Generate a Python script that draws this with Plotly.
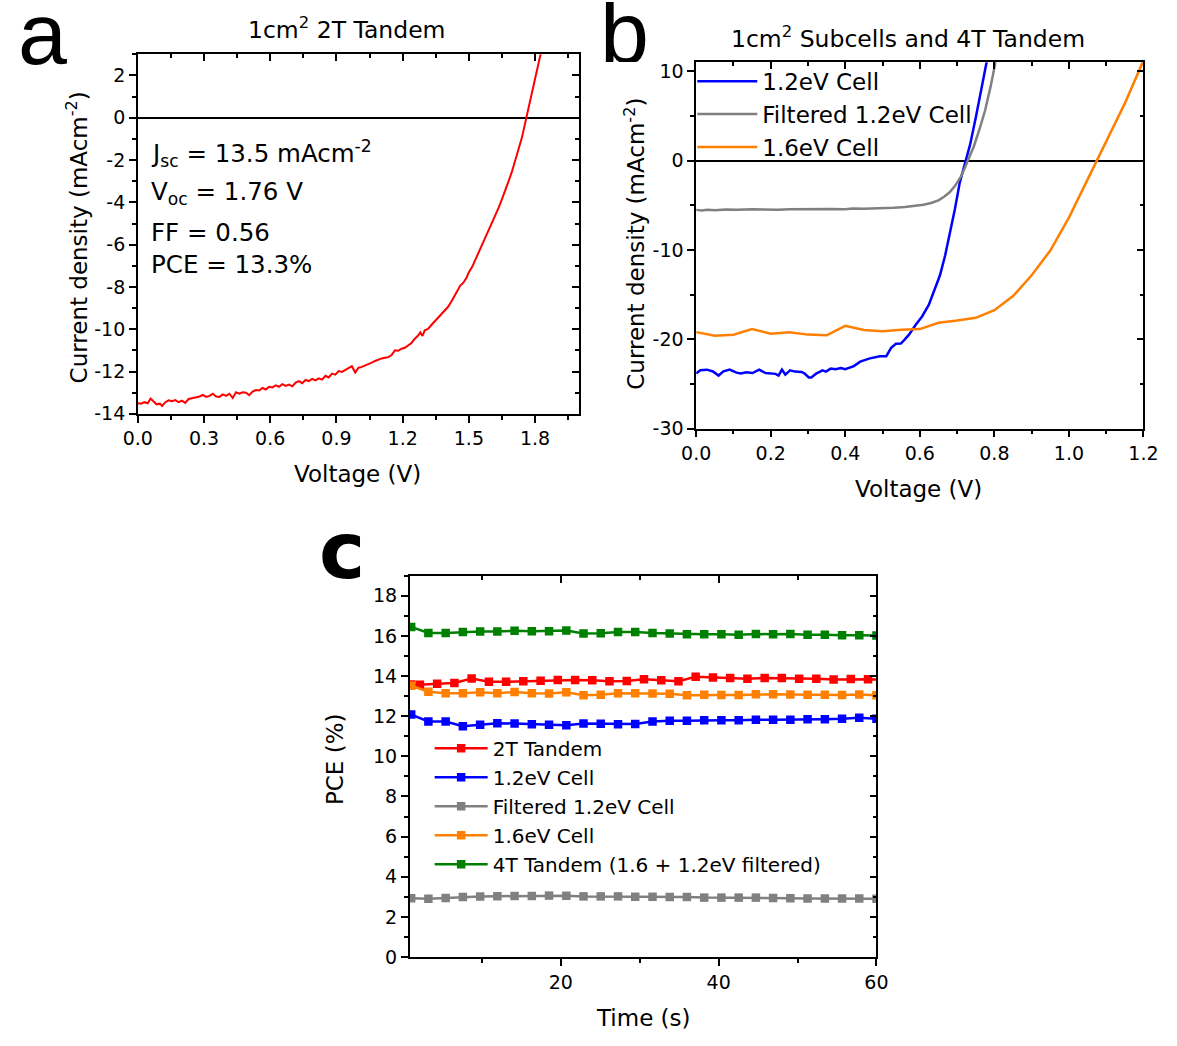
import plotly.graph_objects as go

W, H = 1177, 1046
FONT = "DejaVu Sans, Liberation Sans, Arial, sans-serif"
LETTER_FONT = "Liberation Sans, Arial, sans-serif"

# ---------------- Panel a : 2T tandem J-V ----------------
a_voltage = [0.000, 0.015, 0.030, 0.045, 0.058, 0.070, 0.085, 0.100, 0.110, 0.125, 0.140, 0.155,
             0.170, 0.185, 0.200, 0.215, 0.230, 0.250, 0.265, 0.280, 0.295, 0.310, 0.325, 0.340,
             0.355, 0.370, 0.385, 0.400, 0.415, 0.430, 0.445, 0.460, 0.475, 0.490, 0.505, 0.520,
             0.535, 0.550, 0.565, 0.580, 0.595, 0.610, 0.625, 0.640, 0.655, 0.670, 0.685, 0.700,
             0.715, 0.730, 0.745, 0.760, 0.775, 0.790, 0.805, 0.820, 0.835, 0.850, 0.865, 0.880,
             0.895, 0.910, 0.925, 0.940, 0.955, 0.970, 0.985, 1.000, 1.015, 1.030, 1.045, 1.060,
             1.075, 1.090, 1.105, 1.120, 1.135, 1.150, 1.165, 1.180, 1.195, 1.210, 1.225, 1.240,
             1.255, 1.270, 1.280, 1.290, 1.300, 1.315, 1.330, 1.345, 1.360, 1.375, 1.390, 1.405,
             1.420, 1.435, 1.450, 1.460, 1.475, 1.490, 1.500, 1.515, 1.530, 1.545, 1.560, 1.575,
             1.590, 1.605, 1.620, 1.635, 1.650, 1.665, 1.680, 1.695, 1.710, 1.725, 1.740, 1.755,
             1.770, 1.785, 1.800, 1.815, 1.830]
a_current = [-13.50, -13.52, -13.45, -13.50, -13.28, -13.40, -13.55, -13.52, -13.63, -13.45, -13.36, -13.40,
             -13.35, -13.45, -13.38, -13.48, -13.30, -13.25, -13.22, -13.18, -13.10, -13.20, -13.15, -13.05,
             -13.18, -13.20, -13.08, -13.15, -13.05, -13.25, -12.98, -13.05, -12.98, -13.00, -13.12, -12.95,
             -12.88, -12.90, -12.78, -12.85, -12.72, -12.75, -12.65, -12.72, -12.60, -12.68, -12.62, -12.70,
             -12.52, -12.45, -12.55, -12.40, -12.45, -12.35, -12.42, -12.32, -12.38, -12.20, -12.28, -12.10,
             -12.15, -11.98, -12.02, -11.92, -11.85, -11.75, -12.05, -11.82, -11.78, -11.72, -11.65, -11.58,
             -11.50, -11.42, -11.38, -11.35, -11.32, -11.22, -11.00, -11.02, -10.92, -10.88, -10.78, -10.65,
             -10.45, -10.30, -10.15, -10.32, -10.05, -9.98, -9.80, -9.62, -9.45, -9.30, -9.10, -8.95,
             -8.70, -8.45, -8.15, -7.95, -7.80, -7.55, -7.30, -7.05, -6.70, -6.40, -6.05, -5.70,
             -5.35, -5.00, -4.62, -4.25, -3.85, -3.45, -3.00, -2.55, -2.05, -1.55, -0.95, -0.25,
             0.45, 1.15, 1.85, 2.55, 3.25]

a_xticks = [0.0, 0.3, 0.6, 0.9, 1.2, 1.5, 1.8]
a_xticktext = ["0.0", "0.3", "0.6", "0.9", "1.2", "1.5", "1.8"]
a_yticks = [2, 0, -2, -4, -6, -8, -10, -12, -14]
a_yticktext = ["2", "0", "-2", "-4", "-6", "-8", "-10", "-12", "-14"]

# ---------------- Panel b : subcells J-V ----------------
b_blue_v = [0.000, 0.011, 0.029, 0.045, 0.060, 0.073, 0.090, 0.108, 0.120, 0.134, 0.151, 0.169,
            0.186, 0.200, 0.213, 0.221, 0.230, 0.239, 0.252, 0.265, 0.283, 0.291, 0.302, 0.309,
            0.322, 0.339, 0.348, 0.361, 0.374, 0.388, 0.400, 0.423, 0.440, 0.466, 0.493, 0.510,
            0.523, 0.536, 0.549, 0.558, 0.571, 0.589, 0.606, 0.624, 0.641, 0.654, 0.668, 0.681,
            0.694, 0.707, 0.720, 0.735, 0.750, 0.765, 0.780]
b_blue_j = [-23.84, -23.47, -23.40, -23.60, -24.06, -23.58, -23.40, -23.73, -23.84, -23.70, -23.78, -23.40,
            -23.78, -23.80, -23.87, -24.06, -23.40, -23.95, -23.47, -23.62, -23.65, -23.84, -24.28, -24.28,
            -23.84, -23.47, -23.62, -23.28, -23.36, -23.22, -23.36, -23.00, -22.50, -22.14, -21.90, -21.90,
            -20.96, -20.50, -20.48, -20.10, -19.48, -18.38, -17.45, -16.16, -14.30, -12.84, -10.60, -8.04,
            -5.46, -2.50, -0.50, 1.80, 4.80, 8.00, 11.20]

b_gray_v = [0.000, 0.015, 0.030, 0.050, 0.080, 0.110, 0.150, 0.180, 0.200, 0.220, 0.250, 0.280,
            0.300, 0.330, 0.360, 0.400, 0.420, 0.450, 0.480, 0.500, 0.530, 0.560, 0.590, 0.610,
            0.630, 0.650, 0.665, 0.680, 0.695, 0.710, 0.720, 0.730, 0.745, 0.760, 0.775, 0.790,
            0.800, 0.810]
b_gray_j = [-5.52, -5.58, -5.50, -5.55, -5.48, -5.52, -5.45, -5.50, -5.45, -5.52, -5.45, -5.42,
            -5.45, -5.40, -5.42, -5.45, -5.38, -5.40, -5.36, -5.38, -5.28, -5.20, -5.08, -4.95,
            -4.75, -4.45, -4.05, -3.55, -2.80, -1.80, -0.90, 0.05, 1.60, 3.50, 5.60, 8.30,
            10.50, 12.50]

b_orange_v = [0.00, 0.05, 0.10, 0.15, 0.20, 0.25, 0.30, 0.35, 0.40, 0.45, 0.50, 0.55, 0.60,
              0.65, 0.70, 0.75, 0.80, 0.85, 0.90, 0.95, 1.00, 1.05, 1.10, 1.15, 1.20]
b_orange_j = [-19.20, -19.60, -19.50, -18.86, -19.37, -19.22, -19.48, -19.56, -18.49, -18.97, -19.11,
              -18.93, -18.86, -18.15, -17.90, -17.60, -16.75, -15.17, -12.84, -10.07, -6.38, -2.14,
              2.00, 6.40, 11.20]

b_xticks = [0.0, 0.2, 0.4, 0.6, 0.8, 1.0, 1.2]
b_xticktext = ["0.0", "0.2", "0.4", "0.6", "0.8", "1.0", "1.2"]
b_yticks = [10, 0, -10, -20, -30]
b_yticktext = ["10", "0", "-10", "-20", "-30"]

# ---------------- Panel c : PCE vs time ----------------
c_time = [1.04, 3.22, 5.41, 7.59, 9.78, 11.96, 14.14, 16.33, 18.51, 20.70, 22.88, 25.06, 27.25, 29.43,
          31.62, 33.80, 35.98, 38.17, 40.35, 42.54, 44.72, 46.90, 49.09, 51.27, 53.46, 55.64, 57.82, 60.00]
c_time_2t = [1.04, 2.15, 4.33, 6.52, 8.70, 10.89, 13.07, 15.25, 17.44, 19.62, 21.81, 23.99, 26.17, 28.36,
             30.54, 32.73, 34.91, 37.09, 39.28, 41.46, 43.65, 45.83, 48.01, 50.20, 52.38, 54.57, 56.75,
             58.93, 61.12]
c_pce_2t = [13.58, 13.57, 13.62, 13.66, 13.88, 13.72, 13.72, 13.74, 13.77, 13.80, 13.80, 13.79, 13.74,
            13.75, 13.84, 13.79, 13.74, 13.97, 13.93, 13.90, 13.87, 13.90, 13.90, 13.87, 13.87, 13.83,
            13.85, 13.84, 13.82]
c_pce_12 = [12.08, 11.74, 11.74, 11.50, 11.57, 11.65, 11.64, 11.60, 11.58, 11.55, 11.64, 11.63, 11.60,
            11.61, 11.74, 11.78, 11.78, 11.80, 11.80, 11.80, 11.83, 11.82, 11.82, 11.85, 11.85, 11.87,
            11.92, 11.87]
c_pce_12f = [2.93, 2.90, 2.94, 2.99, 3.02, 3.03, 3.04, 3.04, 3.06, 3.05, 3.02, 3.02, 3.02, 3.00, 3.00,
             2.99, 2.99, 2.96, 2.96, 2.96, 2.96, 2.94, 2.93, 2.92, 2.92, 2.92, 2.92, 2.90]
c_pce_16 = [13.52, 13.22, 13.15, 13.15, 13.19, 13.15, 13.21, 13.15, 13.13, 13.20, 13.05, 13.07, 13.15,
            13.15, 13.13, 13.12, 13.05, 13.07, 13.06, 13.06, 13.09, 13.09, 13.08, 13.07, 13.07, 13.06,
            13.08, 13.05]
c_pce_4t = [16.45, 16.15, 16.15, 16.20, 16.22, 16.22, 16.26, 16.24, 16.24, 16.27, 16.12, 16.14, 16.20,
            16.20, 16.15, 16.12, 16.08, 16.08, 16.08, 16.06, 16.10, 16.08, 16.10, 16.06, 16.06, 16.03,
            16.04, 16.02]

c_xticks = [20, 40, 60]
c_xticktext = ["20", "40", "60"]
c_yticks = [0, 2, 4, 6, 8, 10, 12, 14, 16, 18]
c_yticktext = ["0", "2", "4", "6", "8", "10", "12", "14", "16", "18"]

RED, BLUE, GRAY, ORANGE, GREEN = "#FF0000", "#0000FF", "#808080", "#FF8000", "#008000"

# ---------------- geometry (pixels) ----------------
def px_x(p):
    return p / W

def px_y(p):
    return 1 - p / H

A_X = [px_x(126), px_x(579)]
A_Y = [px_y(417), px_y(53)]
B_X = [px_x(699), px_x(1158)]
B_Y = [px_y(432), px_y(61)]
C_X = [px_x(405), px_x(884)]
C_Y = [px_y(967), px_y(581)]

TICKFONT = dict(family=FONT, size=19, color="black")

fig = go.Figure()

# panel a
fig.add_trace(go.Scatter(x=a_voltage, y=a_current, mode="lines", line=dict(color=RED, width=2),
                         xaxis="x", yaxis="y", showlegend=False))
# panel b
fig.add_trace(go.Scatter(x=b_blue_v, y=b_blue_j, mode="lines", name="1.2eV Cell",
                         line=dict(color=BLUE, width=2.5), xaxis="x3", yaxis="y3", legend="legend"))
fig.add_trace(go.Scatter(x=b_gray_v, y=b_gray_j, mode="lines", name="Filtered 1.2eV Cell",
                         line=dict(color=GRAY, width=2.5), xaxis="x3", yaxis="y3", legend="legend"))
fig.add_trace(go.Scatter(x=b_orange_v, y=b_orange_j, mode="lines", name="1.6eV Cell",
                         line=dict(color=ORANGE, width=2.5), xaxis="x3", yaxis="y3", legend="legend"))
# panel c
mk = dict(symbol="square", size=8.5)
for name, xs, ys, col in [("2T Tandem", c_time_2t, c_pce_2t, RED),
                          ("1.2eV Cell", c_time, c_pce_12, BLUE),
                          ("Filtered 1.2eV Cell", c_time, c_pce_12f, GRAY),
                          ("1.6eV Cell", c_time, c_pce_16, ORANGE),
                          ("4T Tandem (1.6 + 1.2eV filtered)", c_time, c_pce_4t, GREEN)]:
    fig.add_trace(go.Scatter(x=xs, y=ys, mode="lines+markers", name=name,
                             line=dict(color=col, width=2.5), marker=dict(color=col, **mk),
                             xaxis="x5", yaxis="y5", legend="legend2"))

# empty traces so that the mirrored (top/right) axes get drawn
for xa, ya in [("x2", "y2"), ("x4", "y4"), ("x6", "y6")]:
    fig.add_trace(go.Scatter(x=[], y=[], xaxis=xa, yaxis=ya, showlegend=False, hoverinfo="skip"))


def main_x(domain, anchor, rng, tv, tt, mdt):
    return dict(domain=domain, anchor=anchor, range=rng, tickmode="array", tickvals=tv, ticktext=tt,
                ticks="outside", ticklen=7, tickwidth=1.5, tickcolor="black",
                minor=dict(ticks="outside", ticklen=4, tickwidth=1.5, tickcolor="black",
                           tickmode="linear", tick0=0, dtick=mdt),
                showline=True, linecolor="black", linewidth=1.5, showgrid=False, zeroline=False,
                tickfont=TICKFONT, fixedrange=True)


def main_y(domain, anchor, rng, tv, tt, mdt, zero):
    d = main_x(domain, anchor, rng, tv, tt, mdt)
    d.update(zeroline=zero, zerolinecolor="black", zerolinewidth=1.5)
    return d


def mirror_ax(over, anchor, domain, rng, side, mdt, tv):
    return dict(overlaying=over, anchor=anchor, side=side, domain=domain, range=rng,
                tickmode="array", tickvals=tv,
                showticklabels=False, ticks="inside", ticklen=7, tickwidth=1.5, tickcolor="black",
                minor=dict(ticks="inside", ticklen=4, tickwidth=1.5, tickcolor="black",
                           tickmode="linear", tick0=0, dtick=mdt),
                showline=True, linecolor="black", linewidth=1.5, showgrid=False, zeroline=False,
                fixedrange=True)


A_XR, A_YR = [0, 2.0], [-14, 3]
B_XR, B_YR = [0, 1.2], [-30, 11]
C_XR, C_YR = [0.85, 60], [0, 19]

fig.update_layout(
    width=W, height=H, margin=dict(l=0, r=0, t=0, b=0),
    paper_bgcolor="white", plot_bgcolor="white",
    font=dict(family=FONT, color="black"),
    xaxis=main_x(A_X, "y", A_XR, a_xticks, a_xticktext, 0.15),
    yaxis=main_y(A_Y, "x", A_YR, a_yticks, a_yticktext, 1, True),
    xaxis2=mirror_ax("x", "y", A_X, A_XR, "top", 0.15, a_xticks),
    yaxis2=mirror_ax("y", "x", A_Y, A_YR, "right", 1, a_yticks),
    xaxis3=main_x(B_X, "y3", B_XR, b_xticks, b_xticktext, 0.1),
    yaxis3=main_y(B_Y, "x3", B_YR, b_yticks, b_yticktext, 5, True),
    xaxis4=mirror_ax("x3", "y3", B_X, B_XR, "top", 0.1, b_xticks),
    yaxis4=mirror_ax("y3", "x3", B_Y, B_YR, "right", 5, b_yticks),
    xaxis5=main_x(C_X, "y5", C_XR, c_xticks, c_xticktext, 10),
    yaxis5=main_y(C_Y, "x5", C_YR, c_yticks, c_yticktext, 1, False),
    xaxis6=mirror_ax("x5", "y5", C_X, C_XR, "top", 10, c_xticks),
    yaxis6=mirror_ax("y5", "x5", C_Y, C_YR, "right", 1, c_yticks),
    legend=dict(x=px_x(695), y=px_y(58.5), xanchor="left", yanchor="top", bgcolor="rgba(0,0,0,0)",
                font=dict(family=FONT, size=23, color="black"), itemwidth=60, tracegroupgap=0,
                borderwidth=0),
    legend2=dict(x=px_x(425.5), y=px_y(736), xanchor="left", yanchor="top", bgcolor="rgba(0,0,0,0)",
                 font=dict(family=FONT, size=20, color="black"), itemwidth=53, tracegroupgap=0,
                 borderwidth=0),
)

ann = []
def text(x, y, s, size, angle=0, family=FONT, xanchor="center", height=None):
    d = dict(x=px_x(x), y=px_y(y), xref="paper", yref="paper", text=s, showarrow=False,
             font=dict(family=family, size=size, color="black"), textangle=angle,
             xanchor=xanchor, yanchor="middle")
    if height is not None:
        d["height"] = height
    ann.append(d)

# panel letters
text(28, 31.5, "a", 88, family=LETTER_FONT, height=63)
text(625, 30, "b", 88, family=LETTER_FONT, height=60)
text(336, 556, "<b>c</b>", 78)
# titles
text(341, 27, "1cm<sup>2</sup> 2T Tandem", 23.5)
text(916, 36, "1cm<sup>2</sup> Subcells and 4T Tandem", 23.5)
# axis titles
text(351, 478, "Voltage (V)", 23)
text(64, 238, "Current density (mAcm<sup>-2</sup>)", 23, angle=-90)
text(927, 493, "Voltage (V)", 23)
text(636, 245, "Current density (mAcm<sup>-2</sup>)", 23, angle=-90)
text(645, 1029, "Time (s)", 23)
text(329, 767, "PCE (%)", 23, angle=-90)
# panel a parameters
text(138, 153, "J<sub>sc</sub> = 13.5 mAcm<sup>-2</sup>", 24.5, xanchor="left")
text(138, 193, "V<sub>oc</sub> = 1.76 V", 24.5, xanchor="left")
text(138, 233, "FF = 0.56", 24.5, xanchor="left")
text(138, 266, "PCE = 13.3%", 24.5, xanchor="left")
fig.update_layout(annotations=ann)

fig.write_html("out.html")
